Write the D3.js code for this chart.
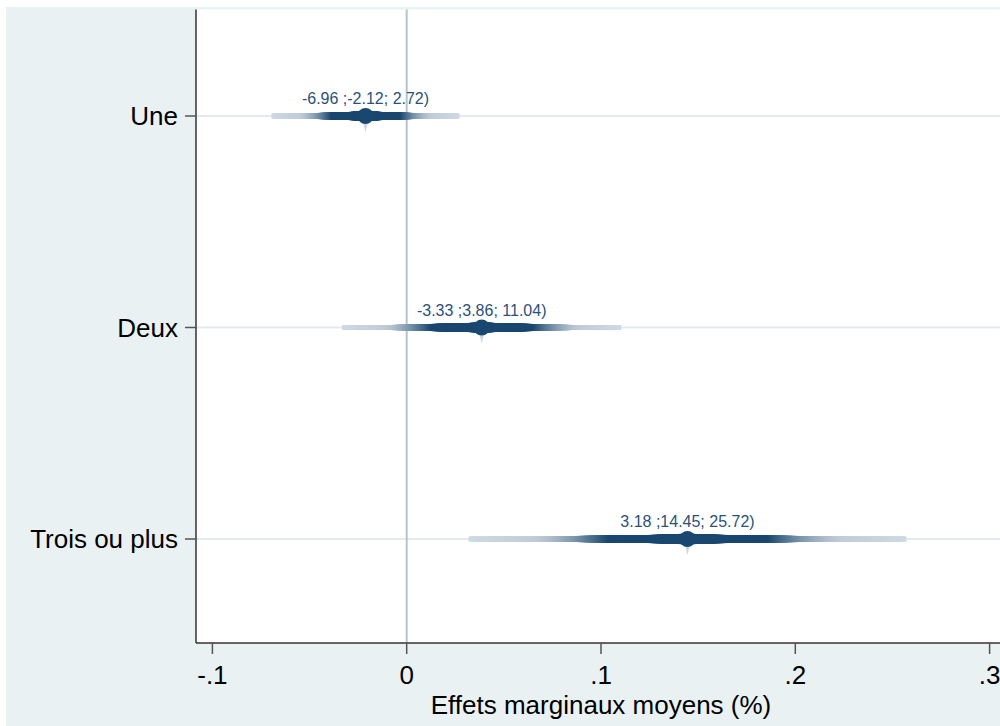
<!DOCTYPE html>
<html>
<head>
<meta charset="utf-8">
<script src="https://cdn.jsdelivr.net/npm/d3@7"></script>
<style>
  html, body { margin: 0; padding: 0; background: #ffffff; }
  svg { display: block; }
  text { font-family: "Liberation Sans", Arial, sans-serif; }
</style>
</head>
<body>
<svg id="chart" width="1000" height="726"></svg>
<script>
// ---- Data ----
const categories = ["Une", "Deux", "Trois ou plus"];
const estimates  = [-0.0212, 0.0386, 0.1445];
const lower      = [-0.0696, -0.0333, 0.0318];
const upper      = [0.0272, 0.1104, 0.2572];
const xTicks     = [-0.1, 0, 0.1, 0.2, 0.3];
const xTitle     = "Effets marginaux moyens (%)";

// ---- Layout ----
const W = 1000, H = 726;
const plotLeft = 196, plotTop = 9.5, plotBottom = 643, plotRight = 1010;
const navy = "#1a476f";

const svg = d3.select("#chart");

// outer graph region
svg.append("rect").attr("x", 6).attr("y", 7).attr("width", W - 6).attr("height", H - 7)
  .attr("fill", "#e9f1f3");
// plot region
svg.append("rect").attr("x", plotLeft).attr("y", plotTop)
  .attr("width", plotRight - plotLeft).attr("height", plotBottom - plotTop)
  .attr("fill", "#ffffff");

const x = d3.scaleLinear().domain([-0.1, 0.3]).range([212.4, 989.6]);
const y = d3.scalePoint().domain(categories).range([116, 539]);

// horizontal gridlines
svg.append("g").selectAll("line").data(categories).join("line")
  .attr("x1", plotLeft).attr("x2", W)
  .attr("y1", d => y(d)).attr("y2", d => y(d))
  .attr("stroke", "#e4ebef").attr("stroke-width", 2);

// zero reference line
svg.append("line")
  .attr("x1", x(0)).attr("x2", x(0))
  .attr("y1", plotTop).attr("y2", plotBottom)
  .attr("stroke", "#b6c2cd").attr("stroke-width", 2);

// ---- smoothed confidence bands ----
const rows = categories.map((c, i) => ({
  cat: c, est: estimates[i], lo: lower[i], hi: upper[i],
  se: (upper[i] - lower[i]) / (2 * 1.96)
}));

const N = 240;
const zs = d3.range(N + 1).map(k => 1.96 * (1 - k / N)); // widest first
const light = "#d9e1e8";
function intensity(z) {
  if (z >= 1.4) return 0.05 + 0.08 * (1.96 - z) / 0.56;
  if (z <= 0.72) return 1;
  const t = (1.4 - z) / (1.4 - 0.72); // 0..1
  return 0.13 + 0.87 * Math.pow(t, 1.5);
}
function thickness(z) {
  if (z >= 1.3) return 5;
  if (z >= 0.6) return 5 + 2.5 * (1.3 - z) / 0.7;
  const t = 1 - z / 0.6;
  return 7.5 + 3.5 * Math.pow(t, 2);
}
const col = d3.interpolateRgb(light, navy);

const bands = svg.append("g");
rows.forEach(r => {
  const cy = y(r.cat);
  bands.append("g").selectAll("rect").data(zs).join("rect")
    .attr("x", z => x(r.est - z * r.se))
    .attr("width", z => x(r.est + z * r.se) - x(r.est - z * r.se))
    .attr("y", z => cy - thickness(z) / 2)
    .attr("height", z => thickness(z))
    .attr("fill", z => col(intensity(z)));
});

// faint tail under the markers
svg.append("g").selectAll("path").data(rows).join("path")
  .attr("d", r => {
    const cx = x(r.est), cy = y(r.cat);
    return `M${cx - 2.5},${cy + 6} L${cx + 2.5},${cy + 6} L${cx},${cy + 16} Z`;
  })
  .attr("fill", "#ccd6df");

// markers
svg.append("g").selectAll("circle").data(rows).join("circle")
  .attr("cx", r => x(r.est)).attr("cy", r => y(r.cat)).attr("r", 8)
  .attr("fill", navy);

// value labels
const f2 = v => (v * 100).toFixed(2);
svg.append("g").selectAll("text").data(rows).join("text")
  .attr("x", r => x(r.est)).attr("y", r => y(r.cat) - 12)
  .attr("text-anchor", "middle")
  .attr("font-size", 16)
  .attr("fill", "#2a5278")
  .text(r => `${f2(r.lo)} ;${f2(r.est)}; ${f2(r.hi)})`);

// ---- axes ----
// left axis line
svg.append("line").attr("x1", plotLeft).attr("x2", plotLeft)
  .attr("y1", plotTop).attr("y2", plotBottom)
  .attr("stroke", "#333").attr("stroke-width", 1.5);
// bottom axis line
svg.append("line").attr("x1", plotLeft).attr("x2", W)
  .attr("y1", plotBottom).attr("y2", plotBottom)
  .attr("stroke", "#333").attr("stroke-width", 1.5);

// y ticks and labels
const yAx = svg.append("g");
yAx.selectAll("line").data(categories).join("line")
  .attr("x1", 185).attr("x2", plotLeft)
  .attr("y1", d => y(d)).attr("y2", d => y(d))
  .attr("stroke", "#555").attr("stroke-width", 1.5);
yAx.selectAll("text").data(categories).join("text")
  .attr("x", 178).attr("y", d => y(d) + 9)
  .attr("text-anchor", "end").attr("font-size", 26).attr("fill", "#000")
  .text(d => d);

// x ticks and labels
const fmtX = v => v === 0 ? "0" : (v < 0 ? "-" : "") + Math.abs(v).toFixed(1).replace(/^0/, "");
const xAx = svg.append("g");
xAx.selectAll("line").data(xTicks).join("line")
  .attr("x1", d => x(d)).attr("x2", d => x(d))
  .attr("y1", plotBottom).attr("y2", 654)
  .attr("stroke", "#555").attr("stroke-width", 1.5);
xAx.selectAll("text").data(xTicks).join("text")
  .attr("x", d => x(d)).attr("y", 683.5)
  .attr("text-anchor", "middle").attr("font-size", 26).attr("fill", "#000")
  .text(fmtX);

// x title
svg.append("text")
  .attr("x", (x(-0.1) + x(0.3)) / 2).attr("y", 713.5)
  .attr("text-anchor", "middle").attr("font-size", 26).attr("fill", "#000")
  .text(xTitle);
</script>
</body>
</html>
